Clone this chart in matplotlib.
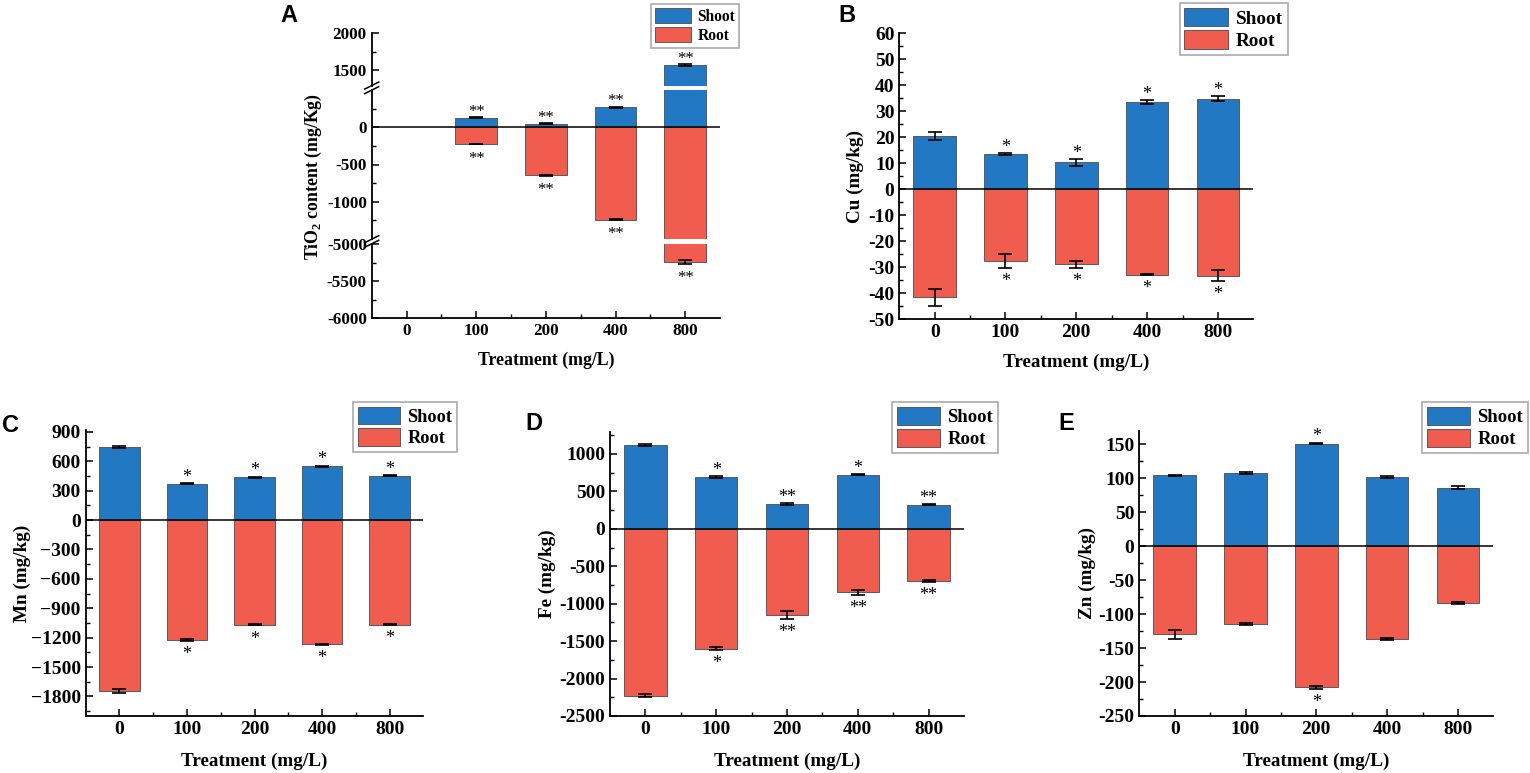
import matplotlib
matplotlib.use("Agg")
import matplotlib.pyplot as plt
from matplotlib.ticker import FixedLocator, FuncFormatter
from matplotlib.lines import Line2D
from matplotlib.patches import Patch

plt.rcParams['font.family'] = ['Liberation Serif', 'DejaVu Serif']
plt.rcParams['font.weight'] = 'bold'
plt.rcParams['axes.labelweight'] = 'bold'
plt.rcParams['axes.unicode_minus'] = False
plt.rcParams['mathtext.fontset'] = 'custom'
plt.rcParams['mathtext.rm'] = 'Liberation Serif:bold'

# data
treatments = ['0', '100', '200', '400', '800']

tio2_shoot = [0, 128, 50, 270, 1570]
tio2_shoot_err = [0, 6, 5, 6, 12]
tio2_root = [0, -225, -645, -1240, -5240]
tio2_root_err = [0, 6, 6, 10, 25]
tio2_shoot_sig = ['', '**', '**', '**', '**']
tio2_root_sig = ['', '**', '**', '**', '**']

cu_shoot = [20.5, 13.5, 10.3, 33.5, 34.8]
cu_shoot_err = [1.5, 0.4, 1.3, 0.7, 1.0]
cu_root = [-41.7, -27.5, -29.0, -32.9, -33.3]
cu_root_err = [3.2, 2.7, 1.5, 0.3, 2.2]
cu_shoot_sig = ['', '*', '*', '*', '*']
cu_root_sig = ['', '*', '*', '*', '*']

mn_shoot = [745, 370, 438, 550, 452]
mn_shoot_err = [8, 6, 4, 5, 6]
mn_root = [-1745, -1222, -1068, -1268, -1066]
mn_root_err = [22, 10, 8, 5, 6]
mn_shoot_sig = ['', '*', '*', '*', '*']
mn_root_sig = ['', '*', '*', '*', '*']

fe_shoot = [1120, 693, 333, 720, 320]
fe_shoot_err = [10, 8, 10, 6, 6]
fe_root = [-2227, -1600, -1151, -849, -698]
fe_root_err = [20, 15, 58, 38, 8]
fe_shoot_sig = ['', '*', '**', '*', '**']
fe_root_sig = ['', '*', '**', '**', '**']

zn_shoot = [104.5, 108, 151, 102.5, 86.3]
zn_shoot_err = [0.8, 1.5, 1.2, 1.5, 2.5]
zn_root = [-130, -115, -208, -137, -83]
zn_root_err = [6, 1.2, 2.0, 1.5, 1.5]
zn_shoot_sig = ['', '', '*', '', '']
zn_root_sig = ['', '', '*', '', '']

blue = '#2278c2'
red = '#f05d4e'
W, H = 1530, 773
x = list(range(len(treatments)))

fig = plt.figure(figsize=(W / 100, H / 100), dpi=100)


def rect(l, t, r, b):
    return [l / W, 1 - b / H, (r - l) / W, (b - t) / H]


def style(ax, fs, bottom=True):
    for s in ['top', 'right']:
        ax.spines[s].set_visible(False)
    ax.spines['left'].set_linewidth(1.3)
    ax.spines['bottom'].set_linewidth(1.3)
    ax.spines['bottom'].set_visible(bottom)
    ax.set_xlim(-0.5, 4.5)
    ax.tick_params(axis='both', which='major', direction='in', length=5, width=1.1, labelsize=fs)
    ax.tick_params(axis='both', which='minor', direction='in', length=3, width=1.0)
    ax.xaxis.set_minor_locator(FixedLocator([0.5, 1.5, 2.5, 3.5]))
    if bottom:
        ax.set_xticks(x)
        ax.set_xticklabels(treatments)
    else:
        ax.tick_params(axis='x', which='both', bottom=False, labelbottom=False)
    ax.axhline(0, color='black', lw=1.1, zorder=3)


def bars(ax, shoot, shoot_err, root, root_err):
    # treatments with no measured value are left out
    for vals, errs, col in [(shoot, shoot_err, blue), (root, root_err, red)]:
        xs = [i for i in x if vals[i] != 0]
        vs = [vals[i] for i in xs]
        es = [errs[i] for i in xs]
        ax.bar(xs, vs, 0.6, color=col, edgecolor='#5a5a5a', lw=0.7, zorder=2)
        ax.errorbar(xs, vs, yerr=es, fmt='none', ecolor='black', elinewidth=1.2,
                    capsize=5, capthick=1.2, zorder=4)


def stars(ax, i, val, err, sig, up, fs=13):
    if not sig:
        return
    y = val + err if up else val - err
    off = 1.0 if up else -13
    ax.annotate(sig, (i, y), xytext=(0, off), textcoords='offset points',
                ha='center', va='baseline', fontsize=fs, fontweight='normal',
                annotation_clip=False, zorder=5)


def legend(ax, right, top, fs):
    h = [Patch(facecolor=blue, edgecolor='#5a5a5a', lw=0.7, label='Shoot'),
         Patch(facecolor=red, edgecolor='#5a5a5a', lw=0.7, label='Root')]
    lg = ax.legend(handles=h, loc='upper right', bbox_to_anchor=(right / W, 1 - top / H),
                   bbox_transform=fig.transFigure, borderaxespad=0, fancybox=False,
                   edgecolor='#aaaaaa', fontsize=fs, handlelength=2.3, handleheight=1.1,
                   labelspacing=0.15, borderpad=0.25, handletextpad=0.4, framealpha=1)
    lg.get_frame().set_linewidth(1.2)


# ---- panel A (broken axis)
aL, aR = 371.7, 720
ax_top = fig.add_axes(rect(aL, 33.3, aR, 85.7))
ax_mid = fig.add_axes(rect(aL, 90, aR, 239))
ax_bot = fig.add_axes(rect(aL, 244, aR, 318.3))
segs = [(ax_top, (1285, 2000), [1500, 2000], [1750]),
        (ax_mid, (-1500, 500), [-1000, -500, 0], [-1250, -750, -250, 250]),
        (ax_bot, (-6000, -5000), [-6000, -5500, -5000], [-5750, -5250])]
for ax, lim, maj, mnr in segs:
    style(ax, 12.3, bottom=(ax is ax_bot))
    bars(ax, tio2_shoot, tio2_shoot_err, tio2_root, tio2_root_err)
    ax.set_ylim(*lim)
    ax.set_yticks(maj)
    ax.yaxis.set_minor_locator(FixedLocator(mnr))


def pick(v):
    for ax, lim, _, _ in segs:
        if lim[0] <= v <= lim[1]:
            return ax
    return ax_mid


for i in x:
    top_v = tio2_shoot[i] + tio2_shoot_err[i]
    stars(pick(top_v), i, tio2_shoot[i], tio2_shoot_err[i], tio2_shoot_sig[i], True, 12)
    bot_v = tio2_root[i] - tio2_root_err[i]
    stars(pick(bot_v), i, tio2_root[i], tio2_root_err[i], tio2_root_sig[i], False, 12)

for yb in [87.85, 241.5]:
    for dy in (-2.3, 2.3):
        yy = yb + dy
        fig.add_artist(Line2D([(aL - 7) / W, (aL + 7) / W],
                              [1 - (yy + 3.5) / H, 1 - (yy - 3.5) / H],
                              color='black', lw=1.1))

ax_bot.set_xlabel('Treatment (mg/L)', fontsize=12.8)
ax_bot.xaxis.set_label_coords(0.5, -41.7 / 74.3)
ax_bot.xaxis.label.set_va('center')
fig.text(313 / W, 1 - 177 / H, r'TiO$_{\mathrm{2}}$ content (mg/Kg)', rotation=90,
         ha='center', va='center', fontsize=12.8, fontweight='bold')
legend(ax_top, 739, 4, 11.2)
fig.text(280 / W, 1 - 16 / H, 'A', family='Liberation Sans', fontsize=17,
         fontweight='bold', va='center', ha='left')

# ---- panels B-E
panels = [
    ('B', (899.3, 33.3, 1253.3, 319), (-50, 60), 10, 5, cu_shoot, cu_shoot_err, cu_root,
     cu_root_err, cu_shoot_sig, cu_root_sig, 'Cu (mg/kg)', 855, 43, (1288, 3, 13.8),
     (838, 15), False),
    ('C', (85.7, 430, 423.3, 716), (-2000, 920), 300, 150, mn_shoot, mn_shoot_err, mn_root,
     mn_root_err, mn_shoot_sig, mn_root_sig, 'Mn (mg/kg)', 22, 45.7, (457, 402, 13.2),
     (2, 425), True),
    ('D', (610, 431.5, 964, 716), (-2500, 1300), 500, 250, fe_shoot, fe_shoot_err, fe_root,
     fe_root_err, fe_shoot_sig, fe_root_sig, 'Fe (mg/kg)', 547, 45.7, (998, 402, 13.5),
     (525, 424), False),
    ('E', (1139.3, 430.7, 1493.3, 716), (-250, 170), 50, 25, zn_shoot, zn_shoot_err, zn_root,
     zn_root_err, zn_shoot_sig, zn_root_sig, 'Zn (mg/kg)', 1087, 45.7, (1528, 402, 13.5),
     (1058, 424), False),
]

for (lab, (l, t, r, b), lim, step, mstep, sh, she, ro, roe, shs, ros, ylab, ylx, xoff,
     (lgr, lgt, lgf), (px, py), uminus) in panels:
    ax = fig.add_axes(rect(l, t, r, b))
    style(ax, 14)
    bars(ax, sh, she, ro, roe)
    ax.set_ylim(*lim)
    lo = -(-lim[0] // step) * step
    ticks = []
    v = lo
    while v <= lim[1]:
        ticks.append(v)
        v += step
    ax.set_yticks(ticks)
    minors = []
    v = lim[0] - lim[0] % mstep
    while v <= lim[1]:
        if v not in ticks and v >= lim[0]:
            minors.append(v)
        v += mstep
    ax.yaxis.set_minor_locator(FixedLocator(minors))
    if uminus:
        ax.yaxis.set_major_formatter(FuncFormatter(lambda val, p: f'{val:.0f}'.replace('-', '\u2212')))
    for i in x:
        stars(ax, i, sh[i], she[i], shs[i], True)
        stars(ax, i, ro[i], roe[i], ros[i], False)
    ax.set_xlabel('Treatment (mg/L)', fontsize=13.8)
    ax.xaxis.set_label_coords(0.5, -xoff / (b - t))
    ax.xaxis.label.set_va('center')
    ax.set_ylabel(ylab, fontsize=13.8)
    ax.yaxis.label.set_va('center')
    ax.yaxis.set_label_coords((ylx - l) / (r - l), 0.5)
    legend(ax, lgr, lgt, lgf)
    fig.text(px / W, 1 - py / H, lab, family='Liberation Sans', fontsize=17,
             fontweight='bold', va='center', ha='left')

fig.savefig('out.png', dpi=100)
